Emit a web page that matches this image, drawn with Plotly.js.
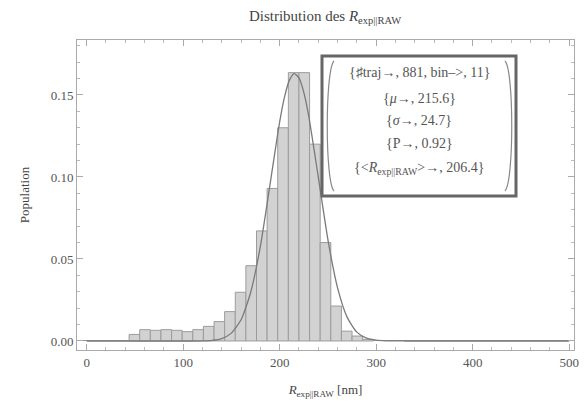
<!DOCTYPE html>
<html>
<head>
<meta charset="utf-8">
<script src="https://cdn.plot.ly/plotly-3.0.1.min.js"></script>
<style>
html,body{margin:0;padding:0;background:#fff;}
#chart{width:584px;height:405px;}
</style>
</head>
<body>
<div id="chart"></div>
<script>
// Histogram bins (left edges, nm) and population fractions
var binLeft = [44, 55, 66, 77, 88, 99, 110, 121, 132, 143, 154, 165, 176, 187, 198, 209, 220, 231, 242, 253, 264, 275, 286];
var population = [0.004, 0.0069, 0.0065, 0.0069, 0.0065, 0.0057, 0.0069, 0.0089, 0.0118, 0.0179, 0.0297, 0.0459, 0.0671, 0.093, 0.130, 0.1636, 0.1636, 0.120, 0.060, 0.0213, 0.006, 0.003, 0.001];
var binWidth = 11;

// Fitted curve, points
var curveX = [0, 100, 120, 130, 140, 150, 160, 170, 180, 190, 200, 205, 210, 215, 220, 225, 230, 240, 250, 260, 270, 280, 290, 300, 310, 330, 400, 500];
var curveY = [0, 0, 0.0001, 0.0004, 0.0015, 0.0048, 0.0129, 0.0297, 0.0577, 0.0953, 0.1336, 0.1487, 0.1589, 0.163, 0.1604, 0.1516, 0.1375, 0.1001, 0.0618, 0.0324, 0.0144, 0.0054, 0.0017, 0.0005, 0.0001, 0, 0, 0];

var xTicks = [0, 100, 200, 300, 400, 500];
var yTicks = [0.00, 0.05, 0.10, 0.15];
var yTickText = ['0.00', '0.05', '0.10', '0.15'];

var statLines = [
  '{\u266Ftraj\u2192, 881, bin\u2013>, 11}',
  '{<i>\u03BC</i>\u2192, 215.6}',
  '{<i>\u03C3</i>\u2192, 24.7}',
  '{P\u2192, 0.92}',
  '{<<i>R</i><sub>exp||RAW</sub>>\u2192, 206.4}'
];

var binCenter = binLeft.map(function(v){ return v + binWidth / 2; });

var traces = [
  {
    type: 'bar',
    x: binCenter,
    y: population,
    width: binWidth,
    marker: {color: '#d2d2d2', line: {color: '#9c9c9c', width: 1}},
    hoverinfo: 'x+y',
    showlegend: false
  },
  {
    type: 'scatter',
    mode: 'lines',
    x: curveX,
    y: curveY,
    line: {color: '#7a7a7a', width: 1.3, shape: 'spline', smoothing: 0.6},
    showlegend: false
  }
];

var L = 77, R = 574, T = 40, B = 350;
function px(p){ return (p - L) / (R - L); }
function py(p){ return (B - p) / (B - T); }

var SERIF = 'Liberation Serif';
function font(size, color){ return {family: SERIF, size: size, color: color || '#555'}; }

var statY = [72, 98, 120, 143, 168];
var annotations = statLines.map(function(t, i){
  return {xref: 'paper', yref: 'paper', x: px(419), y: py(statY[i]), text: t,
          showarrow: false, font: font(14, '#555'), xanchor: 'center', yanchor: 'middle'};
});

function paren(xEdge, xMid){
  var a = px(xEdge), m = px(xMid);
  return 'M ' + a + ' ' + py(61) + ' C ' + m + ' ' + py(70) + ' ' + m + ' ' + py(182) + ' ' + a + ' ' + py(191);
}

var shapes = [
  {type: 'rect', xref: 'paper', yref: 'paper', x0: px(322), x1: px(516), y0: py(196), y1: py(56),
   line: {color: '#666', width: 3}, fillcolor: 'rgba(255,255,255,1)', layer: 'above'},
  {type: 'path', xref: 'paper', yref: 'paper', path: paren(334, 325), line: {color: '#888', width: 1.2}, layer: 'above'},
  {type: 'path', xref: 'paper', yref: 'paper', path: paren(505, 514), line: {color: '#888', width: 1.2}, layer: 'above'}
];

var layout = {
  width: 584, height: 405,
  margin: {l: L, r: 584 - R, t: T, b: 405 - B},
  paper_bgcolor: '#fff', plot_bgcolor: '#fff',
  bargap: 0,
  font: font(13, '#555'),
  title: {text: 'Distribution des <i>R</i><sub>exp||RAW</sub>', font: font(15, '#444'),
          x: px(325), xref: 'paper', y: 1 - 16 / 405, yref: 'container', xanchor: 'center', yanchor: 'middle'},
  xaxis: {
    range: [-10, 505], showgrid: false, zeroline: false,
    showline: true, linecolor: '#aaa', linewidth: 1, mirror: 'allticks',
    ticks: 'inside', ticklen: 6, tickcolor: '#aaa',
    tickvals: xTicks, ticktext: xTicks.map(String),
    minor: {ticks: 'inside', ticklen: 3, tickcolor: '#bbb', dtick: 20, showgrid: false},
    tickfont: font(13, '#555'),
    title: {text: '<i>R</i><sub>exp||RAW</sub> [nm]', font: font(13, '#444'), standoff: 16}
  },
  yaxis: {
    range: [-0.0055, 0.1835], showgrid: false, zeroline: true, zerolinecolor: '#999', zerolinewidth: 1,
    showline: true, linecolor: '#aaa', linewidth: 1, mirror: 'allticks',
    ticks: 'inside', ticklen: 6, tickcolor: '#aaa',
    tickvals: yTicks, ticktext: yTickText,
    minor: {ticks: 'inside', ticklen: 3, tickcolor: '#bbb', dtick: 0.01, showgrid: false},
    tickfont: font(13, '#555'),
    title: {text: 'Population', font: font(13, '#444'), standoff: 18}
  },
  annotations: annotations,
  shapes: shapes
};

Plotly.newPlot('chart', traces, layout, {displayModeBar: false, staticPlot: true});
</script>
</body>
</html>
